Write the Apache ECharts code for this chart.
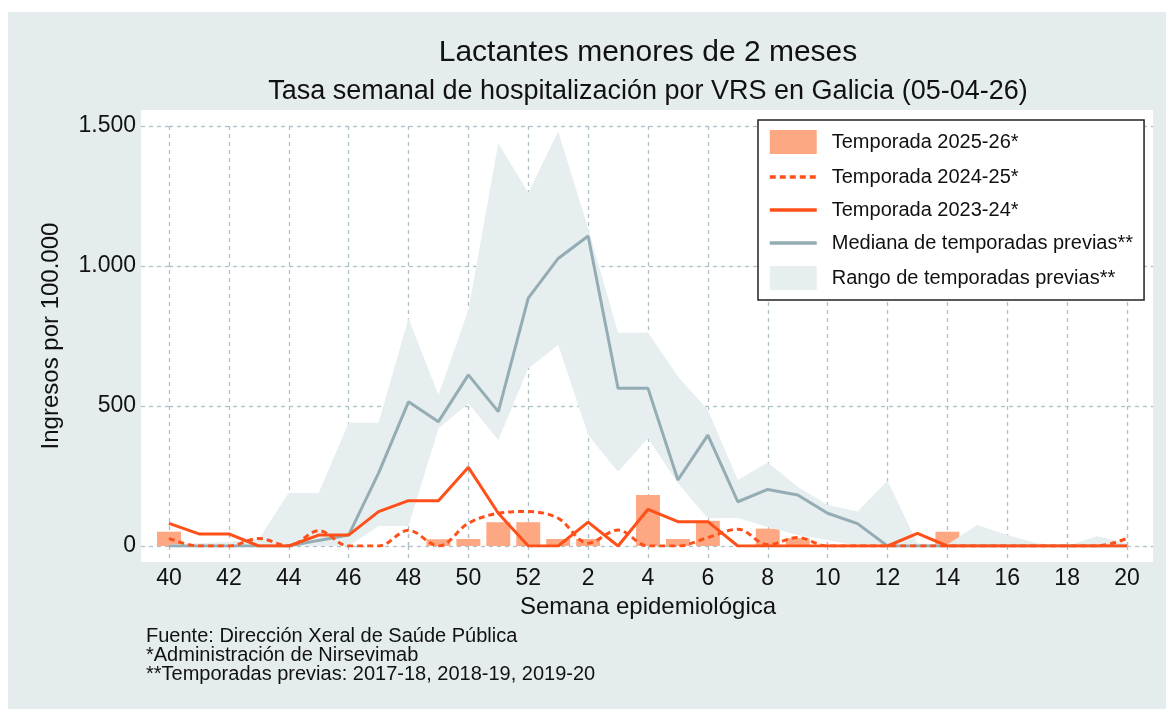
<!DOCTYPE html>
<html>
<head>
<meta charset="utf-8">
<script src="https://cdn.jsdelivr.net/npm/echarts@6/dist/echarts.min.js"></script>
<style>
  html, body { margin: 0; padding: 0; background: #fff; }
  #chart { width: 1166px; height: 709px; }
</style>
</head>
<body>
<div id="chart"></div>
<script>
// semanas epidemiológicas (40-52, 1-20)
var semanas = ['40','41','42','43','44','45','46','47','48','49','50','51','52',
  '1','2','3','4','5','6','7','8','9','10','11','12','13','14','15','16','17','18','19','20'];

// temporada 2025-26 (barras)
var t2526 = [51,0,0,0,0,0,0,0,0,24,25,85,85,
  25,25,0,182,25,90,0,62,28,0,0,0,0,51,0,0,0,0,0,0];
// temporada 2024-25 (punteada)
var t2425 = [27,0,0,27,0,55,0,0,56,0,81,117,123,
  99,10,57,0,0,30,60,5,30,0,0,0,0,0,0,0,0,0,0,27];
// temporada 2023-24 (continua)
var t2324 = [81,43,43,0,0,39,39,123,162,162,281,117,0,
  0,85,0,131,87,87,0,0,0,0,0,0,45,0,0,0,0,0,0,0];
// mediana de temporadas previas
var mediana = [0,0,0,0,0,20,39,260,515,444,611,480,885,
  1027,1107,563,563,236,396,158,202,182,117,80,0,0,0,0,0,0,0,0,0];
// rango de temporadas previas
var rangoMin = [0,0,0,0,0,0,0,71,71,420,510,379,634,
  718,396,265,385,224,99,100,68,39,21,0,0,0,0,0,0,0,0,0,0];
var rangoMax = [5,10,15,25,189,189,440,440,813,539,843,1438,1262,
  1480,1134,762,762,605,486,236,298,212,146,123,233,10,5,75,39,10,0,36,10];

var yTicks = [0, 500, 1000, 1500];

var naranja = '#ff5019';
var gris = '#94adb4';
var banda = '#e6eef0';
var salmon = '#fda882';
var rejilla = '#adc2c8';
var fuente = 'Liberation Sans, Arial, sans-serif';

var rangoDif = [];
for (var i = 0; i < rangoMax.length; i++) {
  rangoDif.push(rangoMax[i] - rangoMin[i]);
}

function miles(v) {
  return String(v).replace(/\B(?=(\d{3})+(?!\d))/g, '.');
}

var myChart = echarts.init(document.getElementById('chart'));

var trazo = { color: rejilla, width: 1.3, type: [4, 4] };
// sin símbolo en la leyenda de las líneas
var sinSimbolo = { opacity: 0 };

var option = {
  animation: false,
  textStyle: { fontFamily: fuente },
  graphic: [
    { type: 'rect', z: -10, shape: { x: 8, y: 12, width: 1158, height: 697 }, style: { fill: '#e5ecee' } },
    { type: 'rect', z: -9, shape: { x: 141, y: 110, width: 1012, height: 452 }, style: { fill: '#fff' } },
    { type: 'text', x: 648, y: 53, style: { text: 'Lactantes menores de 2 meses', textAlign: 'center', textVerticalAlign: 'middle', font: '30px ' + fuente, fill: '#111' } },
    { type: 'text', x: 648, y: 92, style: { text: 'Tasa semanal de hospitalización por VRS en Galicia (05-04-26)', textAlign: 'center', textVerticalAlign: 'middle', font: '27px ' + fuente, fill: '#111' } },
    { type: 'text', x: 146, y: 636, style: { text: 'Fuente: Dirección Xeral de Saúde Pública', textVerticalAlign: 'middle', font: '20px ' + fuente, fill: '#111' } },
    { type: 'text', x: 146, y: 655, style: { text: '*Administración de Nirsevimab', textVerticalAlign: 'middle', font: '20px ' + fuente, fill: '#111' } },
    { type: 'text', x: 146, y: 674, style: { text: '**Temporadas previas: 2017-18, 2018-19, 2019-20', textVerticalAlign: 'middle', font: '20px ' + fuente, fill: '#111' } }
  ],
  legend: {
    orient: 'vertical',
    left: 758,
    top: 120,
    itemWidth: 47,
    itemHeight: 24,
    itemGap: 13,
    padding: [10, 11, 10, 10],
    backgroundColor: '#fff',
    borderColor: '#222',
    borderWidth: 1.5,
    borderRadius: 0,
    selectedMode: false,
    textStyle: { fontSize: 20, color: '#111', padding: [0, 0, 0, 10] },
    data: [
      { name: 'Temporada 2025-26*', icon: 'rect' },
      { name: 'Temporada 2024-25*', itemStyle: sinSimbolo, lineStyle: { width: 3.5, type: [6, 4] } },
      { name: 'Temporada 2023-24*', itemStyle: sinSimbolo, lineStyle: { width: 3.5 } },
      { name: 'Mediana de temporadas previas**', itemStyle: sinSimbolo, lineStyle: { width: 3.5 } },
      { name: 'Rango de temporadas previas**', icon: 'rect', itemStyle: { color: banda } }
    ]
  },
  grid: { left: 169, right: 39, top: 126, bottom: 163 },
  xAxis: [{
    type: 'category',
    data: semanas,
    boundaryGap: false,
    name: 'Semana epidemiológica',
    nameLocation: 'middle',
    nameGap: 48,
    nameTextStyle: { fontSize: 24, color: '#111' },
    axisLine: { show: false },
    axisTick: { show: true, interval: 1, length: 16, lineStyle: trazo },
    axisLabel: { interval: 1, fontSize: 23, color: '#111', margin: 21 },
    splitLine: { show: true, interval: 1, lineStyle: trazo }
  }, {
    type: 'category',
    data: semanas,
    boundaryGap: false,
    position: 'top',
    axisLine: { show: false },
    axisTick: { show: true, interval: 1, length: 16, lineStyle: trazo },
    axisLabel: { show: false },
    splitLine: { show: false }
  }],
  yAxis: [{
    type: 'value',
    min: yTicks[0],
    max: yTicks[yTicks.length - 1],
    interval: 500,
    name: 'Ingresos por 100.000',
    nameLocation: 'middle',
    nameGap: 106,
    nameTextStyle: { fontSize: 24, color: '#111' },
    axisLine: { show: false },
    axisTick: { show: true, length: 32, lineStyle: trazo },
    axisLabel: { fontSize: 23, color: '#111', margin: 33, formatter: miles },
    splitLine: { show: true, lineStyle: trazo }
  }, {
    type: 'value',
    min: yTicks[0],
    max: yTicks[yTicks.length - 1],
    interval: 500,
    position: 'right',
    axisLine: { show: false },
    axisTick: { show: true, length: 26, lineStyle: trazo },
    axisLabel: { show: false },
    splitLine: { show: false }
  }],
  series: [
    {
      name: 'rangoMin',
      type: 'line',
      data: rangoMin,
      stack: 'rango',
      symbol: 'none',
      silent: true,
      lineStyle: { opacity: 0 }
    },
    {
      name: 'Rango de temporadas previas**',
      type: 'line',
      data: rangoDif,
      stack: 'rango',
      symbol: 'none',
      silent: true,
      itemStyle: { color: banda },
      lineStyle: { opacity: 0 },
      areaStyle: { color: banda, opacity: 1 }
    },
    {
      name: 'Mediana de temporadas previas**',
      type: 'line',
      data: mediana,
      symbol: 'none',
      itemStyle: { color: gris },
      lineStyle: { color: gris, width: 3 }
    },
    {
      name: 'Temporada 2025-26*',
      type: 'bar',
      data: t2526,
      barWidth: '80%',
      clip: false,
      itemStyle: { color: salmon }
    },
    {
      name: 'Temporada 2024-25*',
      type: 'line',
      data: t2425,
      symbol: 'none',
      smooth: 0.35,
      itemStyle: { color: naranja },
      lineStyle: { color: naranja, width: 3, type: [6, 4] }
    },
    {
      name: 'Temporada 2023-24*',
      type: 'line',
      data: t2324,
      symbol: 'none',
      itemStyle: { color: naranja },
      lineStyle: { color: naranja, width: 3 }
    }
  ]
};

myChart.setOption(option);
</script>
</body>
</html>
